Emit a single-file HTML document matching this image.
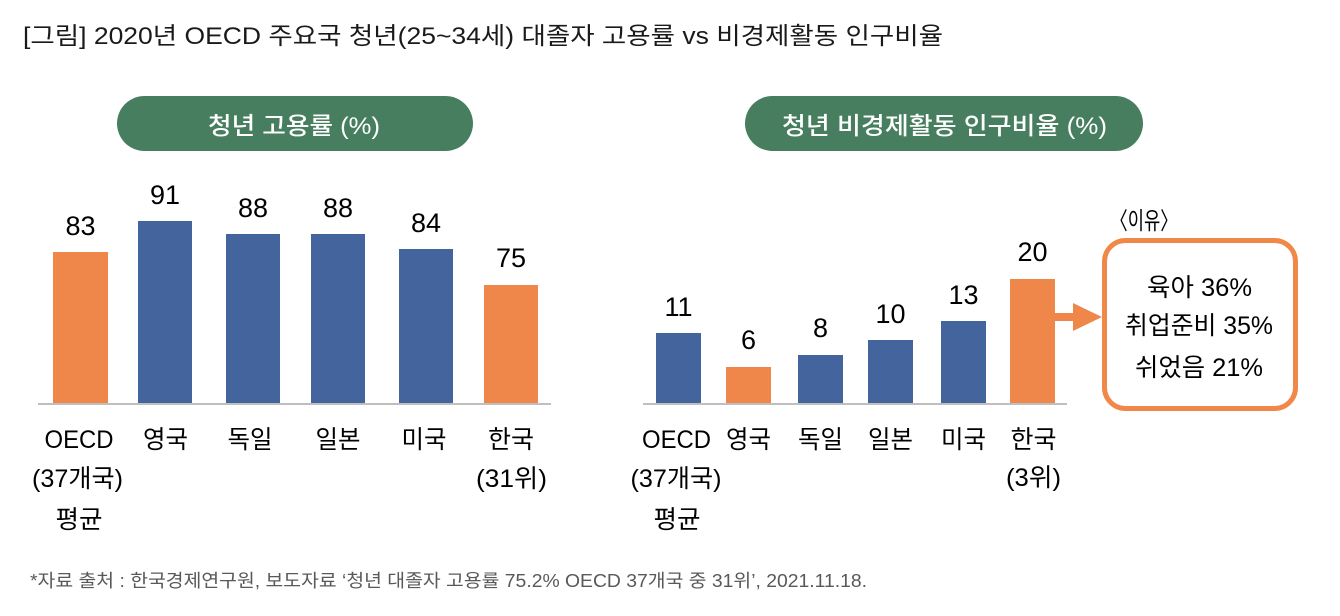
<!DOCTYPE html>
<html><head><meta charset="utf-8"><style>
html,body{margin:0;padding:0;background:#fff;}
svg{display:block;}
text{font-family:"Liberation Sans","Noto Sans CJK KR",sans-serif;}
</style></head><body>
<svg width="1340" height="616" viewBox="0 0 1340 616" xmlns="http://www.w3.org/2000/svg">
<rect width="1340" height="616" fill="#fff"/>
<!-- Title -->
<text x="23" y="44" font-size="24" fill="#1a1a1a" textLength="920" lengthAdjust="spacingAndGlyphs">[그림] 2020년 OECD 주요국 청년(25~34세) 대졸자 고용률 vs 비경제활동 인구비율</text>

<!-- Pills -->
<rect x="117" y="96" width="356" height="55" rx="27.5" fill="#467e5f"/>
<text x="294" y="134" font-size="24" font-weight="500" fill="#fff" text-anchor="middle" textLength="172" lengthAdjust="spacingAndGlyphs">청년 고용률 (%)</text>
<rect x="745" y="96" width="398" height="55" rx="27.5" fill="#467e5f"/>
<text x="944.5" y="134" font-size="24" font-weight="500" fill="#fff" text-anchor="middle" textLength="325" lengthAdjust="spacingAndGlyphs">청년 비경제활동 인구비율 (%)</text>

<!-- Left chart bars -->
<g>
<rect x="53" y="252" width="55" height="151" fill="#f0874a"/>
<rect x="138" y="221" width="54" height="182" fill="#44649e"/>
<rect x="226" y="234" width="54" height="169" fill="#44649e"/>
<rect x="311" y="234" width="54" height="169" fill="#44649e"/>
<rect x="399" y="249" width="54" height="154" fill="#44649e"/>
<rect x="484" y="285" width="54" height="118" fill="#f0874a"/>
<rect x="38" y="403" width="513" height="2" fill="#bfbfbf"/>
</g>
<g font-size="27" fill="#000" text-anchor="middle">
<text x="80.5" y="235">83</text>
<text x="165" y="204">91</text>
<text x="253" y="217">88</text>
<text x="338" y="217">88</text>
<text x="426" y="232">84</text>
<text x="511" y="267">75</text>
</g>
<g font-size="25" fill="#000" text-anchor="middle">
<text x="79" y="448" textLength="69" lengthAdjust="spacingAndGlyphs">OECD</text>
<text x="77.5" y="487" textLength="91" lengthAdjust="spacingAndGlyphs">(37개국)</text>
<text x="79" y="528" textLength="47" lengthAdjust="spacingAndGlyphs">평균</text>
<text x="165.5" y="448" textLength="45" lengthAdjust="spacingAndGlyphs">영국</text>
<text x="250" y="448" textLength="45" lengthAdjust="spacingAndGlyphs">독일</text>
<text x="338" y="448" textLength="45" lengthAdjust="spacingAndGlyphs">일본</text>
<text x="424" y="448" textLength="45" lengthAdjust="spacingAndGlyphs">미국</text>
<text x="511" y="448" textLength="46" lengthAdjust="spacingAndGlyphs">한국</text>
<text x="511.5" y="487" textLength="71" lengthAdjust="spacingAndGlyphs">(31위)</text>
</g>

<!-- Right chart bars -->
<g>
<rect x="656" y="333" width="45" height="70" fill="#44649e"/>
<rect x="726" y="367" width="45" height="36" fill="#f0874a"/>
<rect x="798" y="355" width="45" height="48" fill="#44649e"/>
<rect x="868" y="340" width="45" height="63" fill="#44649e"/>
<rect x="941" y="321" width="45" height="82" fill="#44649e"/>
<rect x="1010" y="279" width="45" height="124" fill="#f0874a"/>
<rect x="643" y="403" width="424" height="2" fill="#bfbfbf"/>
</g>
<g font-size="27" fill="#000" text-anchor="middle">
<text x="678.5" y="316">11</text>
<text x="748.5" y="349">6</text>
<text x="820.5" y="337">8</text>
<text x="890.5" y="323">10</text>
<text x="963.5" y="304">13</text>
<text x="1032.5" y="261">20</text>
</g>
<g font-size="25" fill="#000" text-anchor="middle">
<text x="676.5" y="448" textLength="69" lengthAdjust="spacingAndGlyphs">OECD</text>
<text x="676" y="487" textLength="91" lengthAdjust="spacingAndGlyphs">(37개국)</text>
<text x="677" y="528" textLength="47" lengthAdjust="spacingAndGlyphs">평균</text>
<text x="748.5" y="448" textLength="45" lengthAdjust="spacingAndGlyphs">영국</text>
<text x="820.5" y="448" textLength="45" lengthAdjust="spacingAndGlyphs">독일</text>
<text x="890.5" y="448" textLength="45" lengthAdjust="spacingAndGlyphs">일본</text>
<text x="963.5" y="448" textLength="45" lengthAdjust="spacingAndGlyphs">미국</text>
<text x="1033.5" y="448" textLength="46" lengthAdjust="spacingAndGlyphs">한국</text>
<text x="1033.5" y="486" textLength="55" lengthAdjust="spacingAndGlyphs">(3위)</text>
</g>

<!-- Arrow -->
<rect x="1055" y="313" width="21" height="8" fill="#f0874a"/>
<polygon points="1073,303 1102,317 1073,331" fill="#f0874a"/>

<!-- Reason box -->
<text x="1144" y="229" font-size="24" fill="#000" text-anchor="middle" textLength="68" lengthAdjust="spacingAndGlyphs">〈이유〉</text>
<rect x="1104.5" y="240.5" width="191" height="168" rx="21" fill="#fff" stroke="#ef8848" stroke-width="5"/>
<g font-size="25" fill="#000" text-anchor="middle">
<text x="1199.5" y="296" textLength="105" lengthAdjust="spacingAndGlyphs">육아 36%</text>
<text x="1199" y="334" textLength="148" lengthAdjust="spacingAndGlyphs">취업준비 35%</text>
<text x="1199" y="376" textLength="128" lengthAdjust="spacingAndGlyphs">쉬었음 21%</text>
</g>

<!-- Footnote -->
<text x="30" y="587" font-size="18" fill="#595959" textLength="837" lengthAdjust="spacingAndGlyphs">*자료 출처 : 한국경제연구원, 보도자료 ‘청년 대졸자 고용률 75.2% OECD 37개국 중 31위’, 2021.11.18.</text>
</svg>
</body></html>
